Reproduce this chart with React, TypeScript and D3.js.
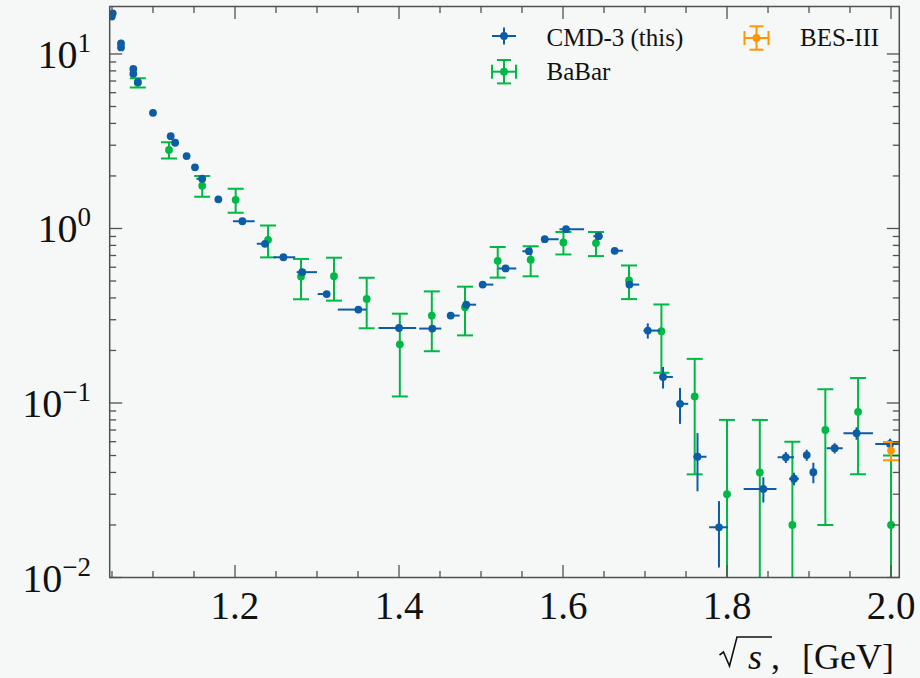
import React from 'react';
import * as d3 from 'd3';

// CMD-3 (this)
const cmdX = [1.0497, 1.0509, 1.061, 1.061, 1.076, 1.076, 1.0815, 1.100, 1.1216, 1.127, 1.141, 1.1512, 1.160, 1.1797, 1.209, 1.2366, 1.259, 1.282, 1.3118, 1.3504, 1.400, 1.4406, 1.463, 1.482, 1.502, 1.530, 1.5585, 1.5777, 1.6037, 1.6435, 1.663, 1.681, 1.7034, 1.722, 1.7427, 1.764, 1.7902, 1.8443, 1.8717, 1.8817, 1.8972, 1.9053, 1.9313, 1.958, 1.9988];
const cmdY = [16.4, 17.1, 11.5, 10.9, 8.2, 7.7, 6.9, 4.6, 3.38, 3.10, 2.60, 2.24, 1.93, 1.47, 1.10, 0.817, 0.684, 0.562, 0.421, 0.343, 0.269, 0.267, 0.317, 0.366, 0.477, 0.590, 0.741, 0.869, 0.991, 0.904, 0.745, 0.477, 0.260, 0.141, 0.0989, 0.0492, 0.0194, 0.0322, 0.0488, 0.0368, 0.0503, 0.0401, 0.0551, 0.0671, 0.0583];
const cmdXLo = [0, 0, 0, 0, 0, 0, 0, 0, 0, 0, 0, 0, 0.007, 0, 0.0115, 0.010, 0.012, 0.0068, 0.011, 0.025, 0.025, 0.016, 0, 0.004, 0, 0.009, 0.008, 0, 0.008, 0.0065, 0, 0, 0.0053, 0.0045, 0.004, 0.005, 0.012, 0.024, 0.010, 0.006, 0, 0, 0.0098, 0.016, 0.018];
const cmdXHi = [0, 0, 0, 0, 0, 0, 0, 0, 0, 0, 0, 0, 0, 0, 0.015, 0, 0.0145, 0.018, 0, 0.010, 0.021, 0.011, 0.011, 0.012, 0.013, 0.013, 0, 0.017, 0.022, 0.005, 0.010, 0.012, 0.015, 0.012, 0.010, 0.011, 0.011, 0.016, 0.010, 0.006, 0, 0, 0.0098, 0.020, 0.018];
const cmdYErr = [0, 0, 0, 0, 0, 0, 0, 0, 0, 0, 0, 0, 0, 0, 0, 0, 0, 0, 0, 0, 0, 0, 0, 0, 0, 0, 0, 0, 0, 0, 0, 0, 0.026, 0.020, 0.023, 0.018, 0.008, 0.0053, 0.0035, 0.003, 0.0036, 0.0054, 0.0037, 0.0055, 0.004];

// BaBar
const babarX = [1.0815, 1.1195, 1.160, 1.2008, 1.2403, 1.2805, 1.3207, 1.3606, 1.401, 1.440, 1.4805, 1.5204, 1.5606, 1.6005, 1.6402, 1.6805, 1.720, 1.7606, 1.800, 1.840, 1.8797, 1.9199, 1.9598, 2.000];
const babarY = [6.84, 2.82, 1.76, 1.46, 0.861, 0.531, 0.533, 0.395, 0.217, 0.317, 0.354, 0.653, 0.662, 0.832, 0.825, 0.504, 0.258, 0.109, 0.030, 0.040, 0.020, 0.070, 0.089, 0.020];
const babarYErr = [0.42, 0.30, 0.24, 0.23, 0.178, 0.138, 0.147, 0.127, 0.108, 0.119, 0.110, 0.130, 0.130, 0.122, 0.130, 0.110, 0.109, 0.070, 0.050, 0.040, 0.040, 0.050, 0.050, 0.030];

// BES-III
const besX = [2.0];
const besY = [0.0534];
const besYErr = [0.0064];

const legendLabels = ['CMD-3 (this)', 'BaBar', 'BES-III'];
const xMajorTicks = [1.2, 1.4, 1.6, 1.8, 2.0];
const xTickLabels = ['1.2', '1.4', '1.6', '1.8', '2.0'];
const yMajorTicks = [0.01, 0.1, 1, 10];
const yTickExp = ['\u22122', '\u22121', '0', '1'];

const W = 920;
const H = 678;
const L = 109.7, R = 899.3, T = 6.5, B = 577.5;
const BLUE = '#0C5DA5';
const GREEN = '#00B945';
const ORANGE = '#FF9500';
const AX = '#505050';
const FONT = "'Liberation Serif', 'DejaVu Serif', serif";

export default function App() {
  const x = d3.scaleLinear().domain([1.0472, 2.0101]).range([L, R]);
  const y = d3.scaleLog().domain([0.01, 18.71]).range([B, T]);

  const xMinor = d3.range(21).map(i => 1.0 + i * 0.05).filter(v => v >= 1.047 && v <= 2.0101 && !xMajorTicks.some(m => Math.abs(m - v) < 1e-6));
  const yMinor: number[] = [];
  [0.01, 0.1, 1, 10].forEach(d => { for (let k = 2; k <= 9; k++) { const v = k * d; if (v <= 18.71) yMinor.push(v); } });

  const majLen = 12.5, minLen = 6.5;
  const yv = (v: number) => (v <= 0 ? B + 30 : y(v));
  const tb = 669; // axis title baseline

  return (
    <svg width={W} height={H} style={{ position: 'absolute', left: 0, top: 0, background: '#f6f8f8' }} fontFamily={FONT}>
      <rect x={0} y={0} width={W} height={H} fill="#f6f8f8" />
      <defs>
        <clipPath id="plotclip"><rect x={L} y={T} width={R - L} height={B - T} /></clipPath>
      </defs>

      {/* data */}
      <g clipPath="url(#plotclip)">
        {/* BaBar */}
        {babarX.map((xv, i) => {
          const lo = babarY[i] - babarYErr[i];
          const hi = babarY[i] + babarYErr[i];
          const px = x(xv);
          return (
            <g key={'b' + i} stroke={GREEN} strokeWidth={2} fill={GREEN}>
              <line x1={px} x2={px} y1={yv(lo)} y2={yv(hi)} />
              <line x1={px - 8} x2={px + 8} y1={yv(hi)} y2={yv(hi)} />
              {lo > 0 && <line x1={px - 8} x2={px + 8} y1={yv(lo)} y2={yv(lo)} />}
              <circle cx={px} cy={y(babarY[i])} r={3.9} stroke="none" />
            </g>
          );
        })}
        {/* CMD-3 */}
        {cmdX.map((xv, i) => {
          const px = x(xv);
          const py = y(cmdY[i]);
          return (
            <g key={'c' + i} stroke={BLUE} strokeWidth={2} fill={BLUE}>
              {(cmdXLo[i] > 0 || cmdXHi[i] > 0) && <line x1={x(xv - cmdXLo[i])} x2={x(xv + cmdXHi[i])} y1={py} y2={py} />}
              {cmdYErr[i] > 0 && <line x1={px} x2={px} y1={yv(cmdY[i] - cmdYErr[i])} y2={yv(cmdY[i] + cmdYErr[i])} />}
              <circle cx={px} cy={py} r={3.9} stroke="none" />
            </g>
          );
        })}
        {/* BES-III */}
        {besX.map((xv, i) => {
          const px = x(xv);
          const lo = y(besY[i] - besYErr[i]);
          const hi = y(besY[i] + besYErr[i]);
          return (
            <g key={'s' + i} stroke={ORANGE} strokeWidth={2} fill={ORANGE}>
              <line x1={px} x2={px} y1={lo} y2={hi} />
              <line x1={px - 8} x2={px + 8} y1={hi} y2={hi} />
              <line x1={px - 8} x2={px + 8} y1={lo} y2={lo} />
              <circle cx={px} cy={y(besY[i])} r={3.9} stroke="none" />
            </g>
          );
        })}
      </g>

      {/* ticks */}
      <g stroke={AX} strokeWidth={1.3}>
        {xMajorTicks.map(v => (
          <g key={'xm' + v}>
            <line x1={x(v)} x2={x(v)} y1={B} y2={B - majLen} />
            <line x1={x(v)} x2={x(v)} y1={T} y2={T + majLen} />
          </g>
        ))}
        {xMinor.map(v => (
          <g key={'xn' + v}>
            <line x1={x(v)} x2={x(v)} y1={B} y2={B - minLen} />
            <line x1={x(v)} x2={x(v)} y1={T} y2={T + minLen} />
          </g>
        ))}
        {yMajorTicks.map(v => (
          <g key={'ym' + v}>
            <line x1={L} x2={L + majLen} y1={y(v)} y2={y(v)} />
            <line x1={R} x2={R - majLen} y1={y(v)} y2={y(v)} />
          </g>
        ))}
        {yMinor.map(v => (
          <g key={'yn' + v}>
            <line x1={L} x2={L + minLen} y1={y(v)} y2={y(v)} />
            <line x1={R} x2={R - minLen} y1={y(v)} y2={y(v)} />
          </g>
        ))}
      </g>
      <rect x={L} y={T} width={R - L} height={B - T} fill="none" stroke={AX} strokeWidth={1.5} />

      {/* tick labels */}
      {xMajorTicks.map((v, i) => (
        <text key={'xl' + v} x={x(v)} y={619} textAnchor="middle" fontSize={39} fill="#111">{xTickLabels[i]}</text>
      ))}
      {yMajorTicks.map((v, i) => (
        <text key={'yl' + v} x={91} y={y(v) + 14} textAnchor="end" fontSize={40} fill="#111">
          10<tspan dy={-16} fontSize={27}>{yTickExp[i]}</tspan>
        </text>
      ))}

      {/* x axis title */}
      <path d={`M719.5,${tb - 14} L723.5,${tb - 17} L729.5,${tb - 3} L737,${tb - 32} L772,${tb - 32}`} fill="none" stroke="#111" strokeWidth={1.6} />
      <text x={748} y={tb} fontSize={36} fontStyle="italic" fill="#111">s</text>
      <text x={771} y={tb} fontSize={36} fill="#111">,</text>
      <text x={802} y={tb} fontSize={36} fill="#111">[GeV]</text>

      {/* legend */}
      <g stroke={BLUE} strokeWidth={2}>
        <line x1={492} x2={516} y1={36} y2={36} />
        <line x1={504} x2={504} y1={27.5} y2={44.5} />
        <circle cx={504} cy={36} r={3.9} fill={BLUE} stroke="none" />
      </g>
      <text x={546.5} y={45.7} fontSize={25} fill="#111">{legendLabels[0]}</text>
      <g stroke={GREEN} strokeWidth={2}>
        <line x1={492} x2={516} y1={71.7} y2={71.7} />
        <line x1={504} x2={504} y1={60} y2={83.4} />
        <line x1={497} x2={511} y1={60} y2={60} />
        <line x1={497} x2={511} y1={83.4} y2={83.4} />
        <line x1={492} x2={492} y1={64.7} y2={78.7} />
        <line x1={516} x2={516} y1={64.7} y2={78.7} />
        <circle cx={504} cy={71.7} r={3.9} fill={GREEN} stroke="none" />
      </g>
      <text x={546.5} y={80} fontSize={25} fill="#111">{legendLabels[1]}</text>
      <g stroke={ORANGE} strokeWidth={2}>
        <line x1={744.5} x2={768.5} y1={38} y2={38} />
        <line x1={756.5} x2={756.5} y1={26.3} y2={49.7} />
        <line x1={749.5} x2={763.5} y1={26.3} y2={26.3} />
        <line x1={749.5} x2={763.5} y1={49.7} y2={49.7} />
        <line x1={744.5} x2={744.5} y1={31} y2={45} />
        <line x1={768.5} x2={768.5} y1={31} y2={45} />
        <circle cx={756.5} cy={38} r={3.9} fill={ORANGE} stroke="none" />
      </g>
      <text x={800} y={45.7} fontSize={25} fill="#111">{legendLabels[2]}</text>
    </svg>
  );
}
